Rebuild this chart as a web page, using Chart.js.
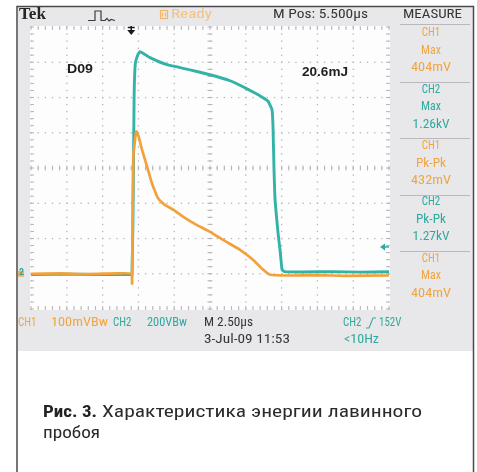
<!DOCTYPE html>
<html>
<head>
<meta charset="utf-8">
<script src="https://cdn.jsdelivr.net/npm/chart.js@4/dist/chart.umd.min.js"></script>
<style>
  html, body { margin: 0; padding: 0; background: #fff; }
  #wrap { width: 477px; height: 472px; position: relative; }
  canvas { display: block; }
</style>
</head>
<body>
<div id="wrap"><canvas id="scope" width="477" height="472"></canvas></div>
<script>
// Timebase: 2.50 µs/div over 10 divisions, trigger at t = 0, M Pos 5.500 µs
const H_DIV_US = 2.5;
const M_POS_US = 5.5;
const X_MIN = M_POS_US - 5 * H_DIV_US;
const X_MAX = M_POS_US + 5 * H_DIV_US;

// Vertical: CH1 100 mV/div, CH2 200 V/div, both grounds 3 div below centre
const CH1_DIV_MV = 100;
const CH2_DIV_V = 200;
const TRIGGER_LEVEL_V = 152;

// CH1 trace (current sense), time in µs, amplitude in mV
const ch1TimeUs = [-7, -5, -3, -1, 0, 0.06, 0.14, 0.35, 0.5, 0.75, 1.0, 1.17, 1.4, 1.6, 1.87, 2.3, 3.0, 3.61, 4.5, 5.5, 6.5, 7.6, 8.5, 9.2, 9.7, 11, 13, 15, 18];
const ch1mV =     [0, 1, -1, 1, 0, -28, 330, 404, 392, 352, 318, 295, 262, 240, 214, 197, 180, 162, 140, 119, 94, 68, 40, 12, -3, -5, -4, -6, -5];

// CH2 trace (drain voltage), time in µs, amplitude in V
const ch2TimeUs = [-7, -4, -1, 0, 0.05, 0.12, 0.2, 0.28, 0.45, 0.6, 0.85, 1.31, 2.5, 4.1, 5.5, 6.9, 7.8, 8.64, 9.2, 9.55, 9.83, 9.9, 9.97, 10.04, 10.25, 10.39, 10.53, 10.7, 12, 14, 16, 18];
const ch2V =      [-4, -3, -5, -4, -10, 300, 1000, 1190, 1240, 1260, 1250, 1226, 1186, 1157, 1129, 1095, 1061, 1025, 999, 980, 931, 834, 590, 420, 232, 136, 23, 12, 10, 12, 9, 11];

const NARROW = '"Liberation Sans Narrow", "Arial Narrow", "Roboto Condensed", "Liberation Sans", sans-serif';

function toPoints(xs, ys) { return xs.map((t, i) => ({ x: t, y: ys[i] })); }

// Text drawn to a given width, condensed no further than minScale
function fitText(ctx, s, x, y, o) {
  ctx.save();
  ctx.font = o.font;
  ctx.fillStyle = o.color;
  ctx.textBaseline = o.baseline || 'middle';
  ctx.textAlign = 'left';
  const m = ctx.measureText(s).width;
  let sx = o.w ? o.w / m : 1;
  const minScale = o.minScale === undefined ? 0.84 : o.minScale;
  if (sx < minScale) sx = minScale;
  let x0 = x;
  if (o.align === 'center') x0 = x - m * sx / 2;
  if (o.align === 'right') x0 = x - m * sx;
  ctx.translate(x0, y);
  ctx.scale(sx, 1);
  ctx.fillText(s, 0, 0);
  ctx.restore();
}

function fmtMV(v) { return Math.round(v) + 'mV'; }
function fmtKV(v) { return (v / 1000).toFixed(2) + 'kV'; }

const scopeBackground = {
  id: 'scopeBackground',
  beforeDraw(chart) {
    const ctx = chart.ctx;
    ctx.save();
    ctx.fillStyle = '#ffffff';
    ctx.fillRect(0, 0, chart.width, chart.height);
    // instrument screen
    ctx.fillStyle = '#e8e8ea';
    ctx.fillRect(18, 7, 455, 344);
    // graticule area
    const a = chart.chartArea;
    ctx.fillStyle = '#fdfdfd';
    ctx.fillRect(a.left - 1, a.top - 1, a.right - a.left + 2, a.bottom - a.top + 2);
    ctx.restore();
  }
};

const graticule = {
  id: 'graticule',
  beforeDatasetsDraw(chart) {
    const { ctx, scales: { x, y2 } } = chart;
    const xs = [], ys = [];
    for (let i = 0; i <= 10; i++) xs.push(x.getPixelForValue(X_MIN + i * H_DIV_US));
    for (let j = 0; j <= 8; j++) ys.push(y2.getPixelForValue(-CH2_DIV_V + j * CH2_DIV_V));
    const top = ys[8], bottom = ys[0], left = xs[0], right = xs[10];
    ctx.save();
    ctx.fillStyle = '#b4b4b8';
    // dotted division lines, five dots per division
    xs.forEach(px => {
      for (let k = 0; k <= 40; k++) {
        const py = top + (bottom - top) * k / 40;
        ctx.fillRect(px - 0.6, py - 0.6, 1.3, 1.3);
      }
    });
    ys.forEach(py => {
      for (let k = 0; k <= 50; k++) {
        const px = left + (right - left) * k / 50;
        ctx.fillRect(px - 0.6, py - 0.6, 1.3, 1.3);
      }
    });
    // minor ticks on the centre axes and along the edges
    ctx.strokeStyle = '#b4b4b8';
    ctx.lineWidth = 1;
    ctx.beginPath();
    const cx = xs[5], cy = ys[4];
    for (let k = 0; k <= 50; k++) {
      const px = left + (right - left) * k / 50;
      ctx.moveTo(px, cy - 2.5); ctx.lineTo(px, cy + 2.5);
      ctx.moveTo(px, top); ctx.lineTo(px, top + 3);
      ctx.moveTo(px, bottom); ctx.lineTo(px, bottom - 3);
    }
    for (let k = 0; k <= 40; k++) {
      const py = top + (bottom - top) * k / 40;
      ctx.moveTo(cx - 2.5, py); ctx.lineTo(cx + 2.5, py);
      ctx.moveTo(left, py); ctx.lineTo(left + 3, py);
      ctx.moveTo(right, py); ctx.lineTo(right - 3, py);
    }
    ctx.stroke();
    ctx.restore();
  }
};

const readouts = {
  id: 'readouts',
  afterDatasetsDraw(chart) {
    const { ctx, scales: { x, y2 } } = chart;
    const teal = '#2fa99f';

    // trigger position marker
    const tx = x.getPixelForValue(0);
    ctx.save();
    ctx.strokeStyle = '#1a1a1a'; ctx.fillStyle = '#1a1a1a'; ctx.lineWidth = 1.5;
    ctx.beginPath(); ctx.moveTo(tx, 26); ctx.lineTo(tx, 31); ctx.stroke();
    ctx.beginPath(); ctx.moveTo(tx - 4, 30); ctx.lineTo(tx + 4, 30); ctx.lineTo(tx, 35); ctx.closePath(); ctx.fill();
    ctx.beginPath(); ctx.moveTo(tx - 3.5, 27.5); ctx.lineTo(tx + 3.5, 27.5); ctx.stroke();

    // trigger level marker (CH2)
    const ly = y2.getPixelForValue(TRIGGER_LEVEL_V);
    ctx.fillStyle = teal; ctx.strokeStyle = teal; ctx.lineWidth = 1.5;
    ctx.beginPath(); ctx.moveTo(380, ly); ctx.lineTo(385, ly - 3.5); ctx.lineTo(385, ly + 3.5); ctx.closePath(); ctx.fill();
    ctx.beginPath(); ctx.moveTo(384, ly); ctx.lineTo(389, ly); ctx.stroke();

    // ground reference marker
    const gy = y2.getPixelForValue(0);
    ctx.fillStyle = '#f2b25a';
    ctx.fillRect(18, gy - 3, 6, 6);
    ctx.restore();
    fitText(ctx, '2', 19, gy - 1, { font: 'bold 9px ' + NARROW, color: teal, w: 5 });

    // on-screen notes
    fitText(ctx, 'D09', 67, 70, { font: 'bold 12px "Liberation Sans", Arial, sans-serif', color: '#1e1e1e', w: 26 });
    fitText(ctx, '20.6mJ', 302, 73, { font: 'bold 12px "Liberation Sans", Arial, sans-serif', color: '#1e1e1e', w: 46 });
  },
  afterDraw(chart) {
    const ctx = chart.ctx;
    const dark = '#363638';
    const orange = '#f2a53f';
    const teal = '#2fa99f';
    const f13 = '13px ' + NARROW;

    // top status line
    fitText(ctx, 'Tek', 19, 15, { font: 'bold 16px "Liberation Serif", "DejaVu Serif", serif', color: '#262626', w: 27 });
    ctx.save();
    ctx.strokeStyle = '#3c3c3c'; ctx.lineWidth = 1.2;
    ctx.beginPath();
    ctx.moveTo(88, 20.5); ctx.lineTo(95, 20.5); ctx.lineTo(95, 11); ctx.lineTo(101, 11); ctx.lineTo(101, 20.5);
    ctx.lineTo(105, 20.5); ctx.lineTo(107, 18.5); ctx.lineTo(109, 21); ctx.lineTo(111, 19.5); ctx.lineTo(115, 20.5);
    ctx.stroke();
    ctx.strokeStyle = '#f4b46a'; ctx.lineWidth = 1.2;
    ctx.strokeRect(160.5, 10.5, 7, 8);
    ctx.beginPath(); ctx.moveTo(162.5, 12.5); ctx.lineTo(162.5, 16.5); ctx.moveTo(165.5, 12.5); ctx.lineTo(165.5, 16.5); ctx.stroke();
    ctx.restore();
    fitText(ctx, 'Ready', 171, 15, { font: f13, color: '#f5c27f', w: 41 });
    fitText(ctx, 'M Pos: ' + M_POS_US.toFixed(3) + 'µs', 273, 15, { font: f13, color: dark, w: 95 });
    fitText(ctx, 'MEASURE', 403, 15, { font: f13, color: dark, w: 59 });

    // measurement panel
    const ch1Max = Math.max(...ch1mV), ch1Min = Math.min(...ch1mV);
    const ch2Max = Math.max(...ch2V), ch2Min = Math.min(...ch2V);
    const blocks = [
      ['CH1', 'Max', fmtMV(ch1Max), orange, 40],
      ['CH2', 'Max', fmtKV(ch2Max), teal, 37],
      ['CH1', 'Pk-Pk', fmtMV(ch1Max - ch1Min), orange, 40],
      ['CH2', 'Pk-Pk', fmtKV(ch2Max - ch2Min), teal, 37],
      ['CH1', 'Max', fmtMV(ch1Max), orange, 40]
    ];
    const cx = 431;
    ctx.save();
    ctx.strokeStyle = '#b9b9bd'; ctx.lineWidth = 1;
    ctx.beginPath(); ctx.moveTo(400, 24.5); ctx.lineTo(470, 24.5); ctx.stroke();
    blocks.forEach((b, k) => {
      const y0 = 33 + 56.4 * k;
      fitText(ctx, b[0], cx, y0, { font: f13, color: b[3], w: 18, align: 'center' });
      fitText(ctx, b[1], cx, y0 + 17.5, { font: f13, color: b[3], w: b[1] === 'Max' ? 20 : 30, align: 'center' });
      fitText(ctx, b[2], cx, y0 + 35, { font: f13, color: b[3], w: b[4], align: 'center' });
      if (k < 4) {
        ctx.beginPath(); ctx.moveTo(400, Math.round(y0 + 49) + 0.5); ctx.lineTo(470, Math.round(y0 + 49) + 0.5); ctx.stroke();
      }
    });
    ctx.restore();

    // bottom status lines
    fitText(ctx, 'CH1', 18, 323, { font: f13, color: orange, w: 14 });
    fitText(ctx, CH1_DIV_MV + 'mVBw', 51, 323, { font: f13, color: orange, w: 57 });
    fitText(ctx, 'CH2', 113, 323, { font: f13, color: teal, w: 16 });
    fitText(ctx, CH2_DIV_V + 'VBw', 147, 323, { font: f13, color: teal, w: 40 });
    fitText(ctx, 'M ' + H_DIV_US.toFixed(2) + 'µs', 204, 323, { font: f13, color: dark, w: 49 });
    fitText(ctx, '3-Jul-09 11:53', 204, 340, { font: f13, color: dark, w: 86 });
    fitText(ctx, 'CH2', 343, 323, { font: f13, color: teal, w: 16 });
    ctx.save();
    ctx.strokeStyle = teal; ctx.lineWidth = 1.1;
    ctx.beginPath(); ctx.moveTo(366, 328); ctx.lineTo(369, 328); ctx.lineTo(373, 318); ctx.lineTo(376, 318); ctx.stroke();
    ctx.restore();
    fitText(ctx, TRIGGER_LEVEL_V + 'V', 379, 323, { font: f13, color: teal, w: 21 });
    fitText(ctx, '<10Hz', 344, 340, { font: f13, color: teal, w: 35 });

    // outer frame
    ctx.save();
    ctx.strokeStyle = '#4a4a4a'; ctx.lineWidth = 1.5;
    ctx.beginPath();
    ctx.moveTo(17, 472); ctx.lineTo(17, 6.5); ctx.lineTo(473.5, 6.5); ctx.lineTo(473.5, 472);
    ctx.stroke();
    ctx.restore();

    // caption
    const capFont = '17px ' + NARROW;
    fitText(ctx, 'Рис. 3.', 43, 417, { font: 'bold 17px ' + NARROW, color: '#222', w: 54, baseline: 'alphabetic', minScale: 0 });
    fitText(ctx, 'Характеристика энергии лавинного', 102, 417, { font: capFont, color: '#2b2b2b', w: 320, baseline: 'alphabetic', minScale: 0 });
    fitText(ctx, 'пробоя', 43, 438, { font: capFont, color: '#2b2b2b', w: 57, baseline: 'alphabetic', minScale: 0 });
  }
};

new Chart(document.getElementById('scope'), {
  type: 'line',
  data: {
    datasets: [
      {
        label: 'CH1',
        data: toPoints(ch1TimeUs, ch1mV),
        yAxisID: 'y1',
        borderColor: '#f2a23a',
        borderWidth: 2.7,
        pointRadius: 0,
        tension: 0.15
      },
      {
        label: 'CH2',
        data: toPoints(ch2TimeUs, ch2V),
        yAxisID: 'y2',
        borderColor: '#33b2a7',
        borderWidth: 2.9,
        pointRadius: 0,
        tension: 0.1
      }
    ]
  },
  options: {
    responsive: false,
    animation: false,
    devicePixelRatio: 1,
    events: [],
    layout: { padding: { left: 31, right: 88, top: 27, bottom: 163 } },
    plugins: { legend: { display: false }, tooltip: { enabled: false } },
    scales: {
      x: { type: 'linear', min: X_MIN, max: X_MAX, display: false },
      y1: { type: 'linear', min: -1 * CH1_DIV_MV, max: 7 * CH1_DIV_MV, display: false },
      y2: { type: 'linear', min: -1 * CH2_DIV_V, max: 7 * CH2_DIV_V, display: false }
    }
  },
  plugins: [scopeBackground, graticule, readouts]
});
</script>
</body>
</html>
